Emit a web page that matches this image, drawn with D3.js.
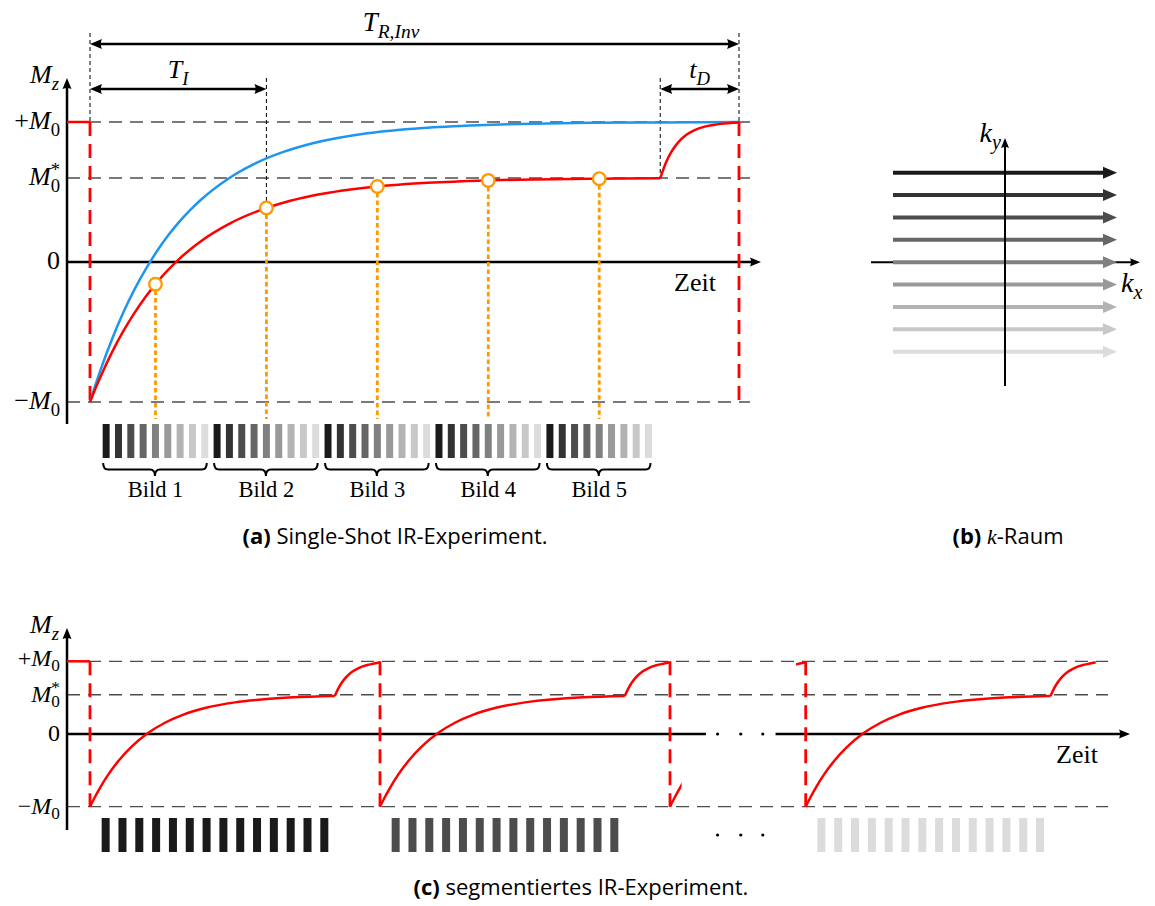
<!DOCTYPE html>
<html>
<head>
<meta charset="utf-8">
<script src="https://cdn.jsdelivr.net/npm/d3@7"></script>
<style>
  body { margin: 0; background: #fff; }
</style>
</head>
<body>
<svg id="fig" width="1155" height="906"></svg>
<script>
// ---------- data: (a) single-shot inversion recovery (times in ms, Mz in units of M0) ----------
const levelsA = [1, 0.6, 0, -1];
const levelTexA = ["+M_0", "M_0^*", "0", "−M_0"];
const relaxTimeA = [0, 5, 10, 20, 30, 40, 50, 60, 70, 80, 90, 100, 125, 150, 175, 200, 250, 300, 350, 400, 450, 514];
const relaxMzA   = [-1, -0.902, -0.81, -0.642, -0.494, -0.365, -0.25, -0.149, -0.06, 0.019, 0.088, 0.149, 0.271, 0.36, 0.425, 0.473, 0.532, 0.564, 0.581, 0.59, 0.595, 0.598];
const recovTimeA = [514, 519, 524, 530, 537, 545, 555, 565, 575, 585];
const recovMzA   = [0.598, 0.707, 0.786, 0.853, 0.905, 0.942, 0.969, 0.983, 0.991, 0.996];
const freeTimeA  = [0, 5, 10, 20, 30, 40, 50, 60, 70, 80, 90, 100, 125, 150, 175, 200, 250, 300, 350, 400, 450, 514, 585];
const freeMzA    = [-1, -0.876, -0.76, -0.548, -0.361, -0.197, -0.054, 0.073, 0.185, 0.283, 0.369, 0.445, 0.597, 0.708, 0.788, 0.846, 0.919, 0.957, 0.977, 0.988, 0.994, 0.997, 1.0];
const readoutTimes = [59, 159, 259, 359, 459];
const readoutMz    = [-0.158, 0.386, 0.54, 0.583, 0.595];
const imageLabels  = ["Bild 1", "Bild 2", "Bild 3", "Bild 4", "Bild 5"];
const inversionTimeTI = 159;
const saturationEnd   = 514;
const repetitionTR    = 585;
const echoSpacingA = 100 / 9;
const echoWidthA   = 6.3;
const lineShades = ["#1a1a1a", "#333333", "#4d4d4d", "#666666", "#808080", "#999999", "#b3b3b3", "#c8c8c8", "#dcdcdc"];

// ---------- data: (b) k-space, ky line index in acquisition order ----------
const kyLines = [4, 3, 2, 1, 0, -1, -2, -3, -4];

// ---------- data: (c) segmented inversion recovery ----------
const levelsC = [1, 0.54, 0, -1];
const levelTexC = ["+M_0", "M_0^*", "0", "−M_0"];
const relaxTimeC = [0, 4, 8, 16, 25, 35, 50, 65, 80, 100, 125, 150, 175, 211];
const relaxMzC   = [-1, -0.874, -0.757, -0.552, -0.361, -0.187, 0.013, 0.158, 0.263, 0.36, 0.435, 0.478, 0.504, 0.523];
const recovTimeC = [211, 214, 217, 221, 226, 232, 239, 245, 250];
const recovMzC   = [0.523, 0.625, 0.705, 0.786, 0.856, 0.911, 0.949, 0.969, 0.988];
const cyclesBeforeBreak = [0, 250, 500];
const cyclesAfterBreak  = [367, 617];
const inversionsC = [0, 250, 500, 617];
const segmentStarts = [0, 250, 617];
const segmentShades = ["#1a1a1a", "#4d4d4d", "#dcdcdc"];
const echoCountC = 14, echoSpacingC = 14.5, echoWidthC = 6.9, firstEchoC = 13.5;
const breakTimes = [510, 608.6];      // visible curve ends / restarts around the gap
const axisBreakC = [531, 591];        // gap in the time axis
const dotTimesC = [541, 561, 580];

// ---------- helpers ----------
const SERIF = '"Liberation Serif", "DejaVu Serif", serif';
const SANS = '"Open Sans", Lato, "Liberation Sans", sans-serif';
const MATH_SIZE = 26;
const svg = d3.select("#fig");

function parseTeX(s) {
  const out = []; let i = 0;
  const group = () => {
    if (s[i] === "{") { const j = s.indexOf("}", i); const g = s.slice(i + 1, j); i = j + 1; return g; }
    return s[i++];
  };
  while (i < s.length) {
    const c = s[i];
    if (c === "_" || c === "^") {
      i++;
      for (const ch of group()) out.push({ t: ch, it: /[A-Za-z]/.test(ch), sub: c === "_", sup: c === "^" });
    } else { i++; out.push({ t: c, it: /[A-Za-z]/.test(c) }); }
  }
  return out;
}

function mathLabel(g, x, y, tex, anchor, size, subShift) {
  size = size || MATH_SIZE;
  subShift = subShift || 0.25;
  const t = g.append("text").attr("x", x).attr("y", y)
    .attr("text-anchor", anchor || "start")
    .style("font-family", SERIF).style("font-size", size + "px").attr("fill", "#000");
  let off = 0, prev = null, prevPart = null;
  parseTeX(tex).forEach(p => {
    const fs = (p.sub || p.sup) ? size * 0.72 : size;
    const target = p.sub ? size * subShift : p.sup ? -size * 0.36 : 0;
    const ts = t.append("tspan").text(p.t)
      .style("font-size", fs + "px")
      .style("font-style", p.it ? "italic" : "normal");
    if (target !== off) ts.attr("dy", target - off);
    if (p.sup && prevPart && prevPart.sub) ts.attr("dx", -prev.node().getComputedTextLength());
    off = target; prev = ts; prevPart = p;
  });
  return t;
}

function arrowHead(g, x, y, angle, len, half, color) {
  g.append("path")
    .attr("d", `M0,0 L${-len},${-half} Q${-len * 0.8},0 ${-len},${half} Z`)
    .attr("transform", `translate(${x},${y}) rotate(${angle})`)
    .attr("fill", color || "#000");
}

function dimArrow(g, x1, x2, y) {
  g.append("line").attr("x1", x1 + 6).attr("x2", x2 - 6).attr("y1", y).attr("y2", y)
    .attr("stroke", "#000").attr("stroke-width", 2.5);
  arrowHead(g, x2, y, 0, 12, 5);
  arrowHead(g, x1, y, 180, 12, 5);
}

function brace(g, x1, x2, y0, depth) {
  const xm = (x1 + x2) / 2, ym = y0 + depth / 2, yt = y0 + depth, r = 5;
  g.append("path")
    .attr("d", `M${x1},${y0} Q${x1},${ym} ${x1 + r},${ym} L${xm - r},${ym} Q${xm},${ym} ${xm},${yt}
                Q${xm},${ym} ${xm + r},${ym} L${x2 - r},${ym} Q${x2},${ym} ${x2},${y0}`)
    .attr("fill", "none").attr("stroke", "#000").attr("stroke-width", 2);
}

const dashedGrey = s => s.attr("stroke", "#4d4d4d").attr("stroke-width", 1.3).attr("stroke-dasharray", "13 8");
const redDash = s => s.attr("stroke", "#ff0000").attr("stroke-width", 2.8).attr("stroke-dasharray", "14 8");

// ================= (a) =================
const gA = svg.append("g");
const xA = d3.scaleLinear().domain([0, repetitionTR]).range([90, 739]);
const yA = d3.scaleLinear().domain([-1, 1]).range([402, 122]);
const axisXA = 67, axisEndA = 761;
const lineA = d3.line().x(d => xA(d[0])).y(d => yA(d[1])).curve(d3.curveMonotoneX);

// level lines
gA.selectAll(".lvl").data(levelsA.filter(v => v !== 0)).join("line")
  .attr("x1", axisXA).attr("x2", 750).attr("y1", d => yA(d)).attr("y2", d => yA(d))
  .call(dashedGrey);

// axes
gA.append("line").attr("x1", axisXA).attr("x2", axisEndA - 6).attr("y1", yA(0)).attr("y2", yA(0))
  .attr("stroke", "#000").attr("stroke-width", 2.5);
arrowHead(gA, axisEndA, yA(0), 0, 11, 4.5);
gA.append("line").attr("x1", axisXA).attr("x2", axisXA).attr("y1", 424).attr("y2", 84)
  .attr("stroke", "#000").attr("stroke-width", 2.5);
arrowHead(gA, axisXA, 78, -90, 11, 4.5);

// axis labels
mathLabel(gA, 59, 83, "M_z", "end");
levelsA.forEach((v, i) => mathLabel(gA, 60, yA(v) + 7, levelTexA[i], "end"));
gA.append("text").attr("x", 695).attr("y", 291).attr("text-anchor", "middle")
  .style("font-family", SERIF).style("font-size", "26px").text("Zeit");

// timing guides (thin dashed)
const guide = (x, y1, y2) => gA.append("line").attr("x1", x).attr("x2", x).attr("y1", y1).attr("y2", y2)
  .attr("stroke", "#000").attr("stroke-width", 1).attr("stroke-dasharray", "4 3");
guide(xA(0), 33, yA(1));
guide(xA(repetitionTR), 33, yA(1));
guide(xA(saturationEnd), 78, yA(levelsA[1]));
guide(xA(inversionTimeTI), 78, yA(readoutMz[1]) - 6.5);

dimArrow(gA, xA(0), xA(repetitionTR), 44);
dimArrow(gA, xA(0), xA(inversionTimeTI), 89);
dimArrow(gA, xA(saturationEnd), xA(repetitionTR), 89);
mathLabel(gA, 391, 31, "T_{R,Inv}", "middle", 27);
mathLabel(gA, xA(inversionTimeTI / 2), 78, "T_I", "middle");
mathLabel(gA, xA((saturationEnd + repetitionTR) / 2), 78, "t_D", "middle");

// inversion pulses (red dashed) and initial equilibrium
gA.append("line").attr("x1", axisXA).attr("x2", xA(0)).attr("y1", yA(1)).attr("y2", yA(1))
  .attr("stroke", "#ff0000").attr("stroke-width", 2.5);
[0, repetitionTR].forEach(t => gA.append("line").attr("x1", xA(t)).attr("x2", xA(t))
  .attr("y1", yA(1)).attr("y2", yA(-1)).call(redDash));

// curves
gA.append("path").attr("d", lineA(freeTimeA.map((t, i) => [t, freeMzA[i]])))
  .attr("fill", "none").attr("stroke", "#1e96f0").attr("stroke-width", 2.5);
gA.append("path").attr("d", lineA(relaxTimeA.map((t, i) => [t, relaxMzA[i]])))
  .attr("fill", "none").attr("stroke", "#ff0000").attr("stroke-width", 2.5);
gA.append("path").attr("d", lineA(recovTimeA.map((t, i) => [t, recovMzA[i]])))
  .attr("fill", "none").attr("stroke", "#ff0000").attr("stroke-width", 2.5);

// readout markers
readoutTimes.forEach((t, i) => {
  gA.append("line").attr("x1", xA(t)).attr("x2", xA(t)).attr("y1", yA(readoutMz[i]) + 6.5).attr("y2", 419)
    .attr("stroke", "#ff9900").attr("stroke-width", 2.8).attr("stroke-dasharray", "4.5 3");
});
gA.selectAll(".ro").data(readoutTimes).join("circle")
  .attr("cx", d => xA(d)).attr("cy", (d, i) => yA(readoutMz[i])).attr("r", 6.3)
  .attr("fill", "#fff").attr("stroke", "#ff9900").attr("stroke-width", 2.3);

// echo train per image
readoutTimes.forEach((t, b) => {
  lineShades.forEach((c, j) => {
    const te = t + (j - 4) * echoSpacingA;
    gA.append("rect").attr("x", xA(te - echoWidthA / 2)).attr("y", 424)
      .attr("width", xA(echoWidthA) - xA(0)).attr("height", 34).attr("fill", c);
  });
  const x1 = xA(t - 4 * echoSpacingA - echoWidthA / 2), x2 = xA(t + 4 * echoSpacingA + echoWidthA / 2);
  brace(gA, x1 + 0.5, x2 - 1.5, 463, 13);
  gA.append("text").attr("x", xA(t)).attr("y", 497).attr("text-anchor", "middle")
    .style("font-family", SERIF).style("font-size", "22.5px").text(imageLabels[b]);
});

// ================= (b) =================
const gB = svg.append("g");
const xB = d3.scaleLinear().domain([-1, 1]).range([893, 1117]);
const yB = d3.scaleLinear().domain([-4, 4]).range([351.7, 172.7]);
gB.append("line").attr("x1", 871).attr("x2", 1134).attr("y1", yB(0)).attr("y2", yB(0))
  .attr("stroke", "#000").attr("stroke-width", 2);
arrowHead(gB, 1140, yB(0), 0, 10, 4);
kyLines.forEach((ky, i) => {
  gB.append("line").attr("x1", xB(-1)).attr("x2", xB(1) - 13).attr("y1", yB(ky)).attr("y2", yB(ky))
    .attr("stroke", lineShades[i]).attr("stroke-width", 4);
  gB.append("path").attr("d", `M0,0 L-14,-6 L-14,6 Z`)
    .attr("transform", `translate(${xB(1)},${yB(ky)})`).attr("fill", lineShades[i]);
});
gB.append("line").attr("x1", xB(0)).attr("x2", xB(0)).attr("y1", 386).attr("y2", 144)
  .attr("stroke", "#000").attr("stroke-width", 2);
arrowHead(gB, xB(0), 138, -90, 10, 4);
mathLabel(gB, 1001, 142, "k_y", "end", 28);
mathLabel(gB, 1121, 292, "k_x", "start", 28);

// ================= (c) =================
const gC = svg.append("g");
const xC = d3.scaleLinear().domain([0, 250]).range([90, 380]);
const yC = d3.scaleLinear().domain([-1, 1]).range([806.7, 661.3]);
const axisXC = 67;
const lineC = d3.line().x(d => xC(d[0])).y(d => yC(d[1])).curve(d3.curveMonotoneX);

gC.selectAll(".lvl").data(levelsC.filter(v => v !== 0)).join("line")
  .attr("x1", axisXC).attr("x2", 1108).attr("y1", d => yC(d)).attr("y2", d => yC(d))
  .call(dashedGrey);

gC.append("line").attr("x1", axisXC).attr("x2", xC(axisBreakC[0])).attr("y1", yC(0)).attr("y2", yC(0))
  .attr("stroke", "#000").attr("stroke-width", 2.5);
gC.append("line").attr("x1", xC(axisBreakC[1])).attr("x2", 1124).attr("y1", yC(0)).attr("y2", yC(0))
  .attr("stroke", "#000").attr("stroke-width", 2.5);
arrowHead(gC, 1130, yC(0), 0, 11, 4.5);
gC.append("line").attr("x1", axisXC).attr("x2", axisXC).attr("y1", 830).attr("y2", 634)
  .attr("stroke", "#000").attr("stroke-width", 2.5);
arrowHead(gC, axisXC, 628, -90, 11, 4.5);

mathLabel(gC, 59, 633, "M_z", "end");
// the upper two levels sit close together, so their labels are set a little tighter
levelsC.forEach((v, i) => mathLabel(gC, 60, yC(v) + (i === 0 ? 5 : 7), levelTexC[i], "end", 24, 0.2));
gC.append("text").attr("x", 1077).attr("y", 763).attr("text-anchor", "middle")
  .style("font-family", SERIF).style("font-size", "26px").text("Zeit");

// clipping windows on either side of the gap
const defs = svg.append("defs");
defs.append("clipPath").attr("id", "clipBefore").append("rect")
  .attr("x", 0).attr("y", 600).attr("width", xC(breakTimes[0])).attr("height", 250);
defs.append("clipPath").attr("id", "clipAfter").append("rect")
  .attr("x", xC(breakTimes[1])).attr("y", 600).attr("width", 1155 - xC(breakTimes[1])).attr("height", 250);

gC.append("line").attr("x1", axisXC).attr("x2", xC(0)).attr("y1", yC(1)).attr("y2", yC(1))
  .attr("stroke", "#ff0000").attr("stroke-width", 2.5);
inversionsC.forEach(t => gC.append("line").attr("x1", xC(t)).attr("x2", xC(t))
  .attr("y1", yC(1)).attr("y2", yC(-1)).call(redDash));

function drawCycle(g, s) {
  g.append("path").attr("d", lineC(relaxTimeC.map((t, i) => [t + s, relaxMzC[i]])))
    .attr("fill", "none").attr("stroke", "#ff0000").attr("stroke-width", 2.5);
  g.append("path").attr("d", lineC(recovTimeC.map((t, i) => [t + s, recovMzC[i]])))
    .attr("fill", "none").attr("stroke", "#ff0000").attr("stroke-width", 2.5);
}
const gBefore = gC.append("g").attr("clip-path", "url(#clipBefore)");
cyclesBeforeBreak.forEach(s => drawCycle(gBefore, s));
const gAfter = gC.append("g").attr("clip-path", "url(#clipAfter)");
cyclesAfterBreak.forEach(s => drawCycle(gAfter, s));

segmentStarts.forEach((s, k) => {
  d3.range(echoCountC).forEach(j => {
    const te = s + firstEchoC + j * echoSpacingC;
    gC.append("rect").attr("x", xC(te - echoWidthC / 2)).attr("y", 818)
      .attr("width", xC(echoWidthC) - xC(0)).attr("height", 34).attr("fill", segmentShades[k]);
  });
});

dotTimesC.forEach(t => {
  gC.append("circle").attr("cx", xC(t)).attr("cy", yC(0)).attr("r", 1.6).attr("fill", "#000");
  gC.append("circle").attr("cx", xC(t)).attr("cy", 835).attr("r", 1.6).attr("fill", "#000");
});

// ================= captions =================
// font size is chosen so that each caption spans its intended width
function caption(x, y, width, tag, rest) {
  const t = svg.append("text").attr("x", x).attr("y", y).attr("text-anchor", "middle")
    .style("font-family", SANS).style("font-size", "20px");
  t.append("tspan").style("font-weight", "bold").text(tag);
  rest.forEach(r => t.append("tspan")
    .style("font-family", r.it ? SERIF : SANS).style("font-style", r.it ? "italic" : "normal").text(r.t));
  const w = t.node().getComputedTextLength();
  const fs = Math.max(17, Math.min(22, 20 * width / w));
  t.style("font-size", fs + "px");
}
caption(395, 544, 322, "(a)", [{ t: " Single-Shot IR-Experiment." }]);
caption(1008, 544, 124, "(b)", [{ t: " " }, { t: "k", it: true }, { t: "-Raum" }]);
caption(581, 895, 362, "(c)", [{ t: " segmentiertes IR-Experiment." }]);
</script>
</body>
</html>
